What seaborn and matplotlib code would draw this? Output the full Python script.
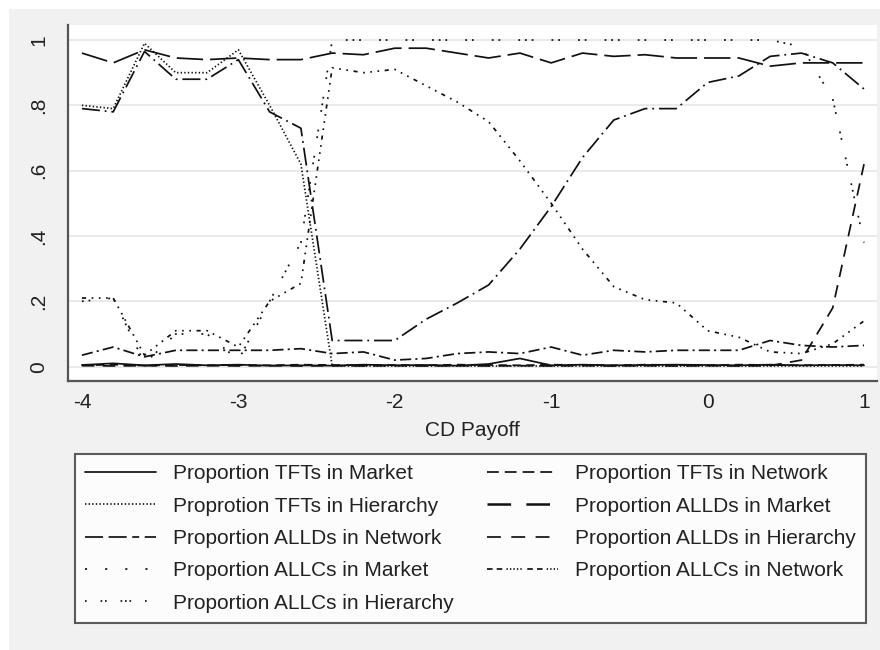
import matplotlib
matplotlib.use("Agg")
import matplotlib.pyplot as plt
from matplotlib.patches import Rectangle
from matplotlib.lines import Line2D
import seaborn as sns
import pandas as pd

# CD payoff grid
cd_payoff = [-4.0, -3.8, -3.6, -3.4, -3.2, -3.0, -2.8, -2.6, -2.4, -2.2, -2.0, -1.8, -1.6,
             -1.4, -1.2, -1.0, -0.8, -0.6, -0.4, -0.2, 0.0, 0.2, 0.4, 0.6, 0.8, 1.0]

tft_market = [0.005, 0.010, 0.004, 0.008, 0.004, 0.006, 0.003, 0.004, 0.003, 0.006, 0.004, 0.005, 0.003,
              0.008, 0.025, 0.004, 0.006, 0.004, 0.005, 0.006, 0.005, 0.004, 0.006, 0.004, 0.005, 0.004]
tft_network = [0.004, 0.006, 0.003, 0.005, 0.004, 0.005, 0.004, 0.006, 0.005, 0.004, 0.005, 0.004, 0.006,
               0.005, 0.004, 0.006, 0.005, 0.004, 0.006, 0.005, 0.004, 0.006, 0.005, 0.004, 0.005, 0.006]
tft_hierarchy = [0.80, 0.79, 0.99, 0.90, 0.90, 0.97, 0.80, 0.62, 0.002, 0.002, 0.002, 0.002, 0.002,
                 0.002, 0.002, 0.002, 0.002, 0.002, 0.002, 0.002, 0.002, 0.002, 0.002, 0.002, 0.002, 0.002]
alld_market = [0.96, 0.93, 0.97, 0.945, 0.94, 0.945, 0.94, 0.94, 0.96, 0.955, 0.975, 0.975, 0.96,
               0.945, 0.96, 0.93, 0.96, 0.95, 0.955, 0.945, 0.945, 0.945, 0.92, 0.93, 0.93, 0.93]
alld_network = [0.79, 0.78, 0.965, 0.88, 0.88, 0.94, 0.78, 0.73, 0.08, 0.08, 0.08, 0.145, 0.195,
                0.25, 0.36, 0.49, 0.64, 0.755, 0.79, 0.79, 0.87, 0.89, 0.95, 0.96, 0.93, 0.85]
alld_hierarchy = [0.003, 0.002, 0.003, 0.002, 0.003, 0.002, 0.003, 0.002, 0.003, 0.002, 0.003, 0.002, 0.003,
                  0.002, 0.003, 0.002, 0.003, 0.002, 0.003, 0.002, 0.003, 0.002, 0.003, 0.02, 0.18, 0.62]
allc_market = [0.035, 0.06, 0.03, 0.05, 0.05, 0.05, 0.05, 0.055, 0.04, 0.045, 0.02, 0.025, 0.04,
               0.045, 0.04, 0.06, 0.035, 0.05, 0.045, 0.05, 0.05, 0.05, 0.08, 0.065, 0.06, 0.065]
allc_network = [0.21, 0.21, 0.035, 0.11, 0.11, 0.06, 0.20, 0.255, 0.915, 0.90, 0.91, 0.86, 0.81,
                0.75, 0.63, 0.50, 0.36, 0.245, 0.205, 0.195, 0.11, 0.09, 0.045, 0.04, 0.07, 0.14]
allc_hierarchy = [0.20, 0.21, 0.01, 0.10, 0.10, 0.02, 0.20, 0.38, 1.0, 1.0, 1.0, 1.0, 1.0,
                  1.0, 1.0, 1.0, 1.0, 1.0, 1.0, 1.0, 1.0, 1.0, 1.0, 0.98, 0.82, 0.38]

labels = ["Proportion TFTs in Market", "Proportion TFTs in Network", "Proprotion TFTs in Hierarchy",
          "Proportion ALLDs in Market", "Proportion ALLDs in Network", "Proportion ALLDs in Hierarchy",
          "Proportion ALLCs in Market", "Proportion ALLCs in Network", "Proportion ALLCs in Hierarchy"]
series = [tft_market, tft_network, tft_hierarchy, alld_market, alld_network, alld_hierarchy,
          allc_market, allc_network, allc_hierarchy]
y_ticks = [0, 0.2, 0.4, 0.6, 0.8, 1.0]
y_ticklabels = ["0", ".2", ".4", ".6", ".8", "1"]
x_ticks = [-4, -3, -2, -1, 0, 1]
x_ticklabels = ["-4", "-3", "-2", "-1", "0", "1"]

# dash patterns (points) used on the plotted curves
line_styles = [
    "-",
    (0, (6, 4)),
    (0, (1, 1.6)),
    (0, (19, 5)),
    (0, (13, 3.5, 1.3, 3.5)),
    (0, (9, 6)),
    (0, (8, 3, 1.5, 3)),
    (0, (3, 4, 1.2, 4, 1.2, 4, 1.2, 4)),
    (0, (1.3, 3.5, 1.3, 13, 1.3, 3.5, 1.3, 13, 1.3, 3.5, 1.3, 3.5, 1.3, 13)),
]
# shorter legend keys render the patterns at key scale
key_styles = [
    ("-", 1.25),
    ((0, (8.5, 4.3)), 1.25),
    ((0, (1, 1.6)), 1.25),
    ((0, (17, 11)), 1.8),
    ((0, (13, 4, 13, 4, 5, 4)), 1.25),
    ((0, (10, 7.5)), 1.25),
    ((0, (1.5, 13)), 1.25),
    ((0, (4, 3, 4, 3, 1, 1.5, 1, 1.5, 1, 1.5, 1, 1.5, 1, 4)), 1.25),
    ((0, (1.2, 10, 1.2, 2, 1.2, 10, 1.2, 2, 1.2, 2, 1.2, 10)), 1.25),
]

df = pd.DataFrame({"cd_payoff": cd_payoff})
for lab, vals in zip(labels, series):
    df[lab] = vals

sns.set_style("white")
plt.rcParams["font.family"] = ["Liberation Sans", "DejaVu Sans"]
plt.rcParams["lines.scale_dashes"] = False

W, H = 880, 650
fig = plt.figure(figsize=(W / 100, H / 100), dpi=100)
fig.patch.set_facecolor("white")
fig.patches.append(Rectangle((9 / W, 0), 1 - 9 / W, 1 - 9 / H, transform=fig.transFigure,
                             facecolor="#f1f1f1", edgecolor="none", zorder=-10))

ax = fig.add_axes([68 / W, 1 - 381 / H, (877 - 68) / W, (381 - 25) / H])
ax.set_facecolor("white")

ink = "#111111"
for lab, ls in zip(labels, line_styles):
    sns.lineplot(data=df, x="cd_payoff", y=lab, ax=ax, color=ink, linestyle=ls,
                 linewidth=1.25, errorbar=None, legend=False)

ax.set_xlim(-4.089, 1.083)
ax.set_ylim(-0.044, 1.046)
ax.set_yticks(y_ticks)
ax.set_yticklabels(y_ticklabels, rotation=90, va="center")
ax.set_xticks(x_ticks)
ax.set_xticklabels(x_ticklabels)
ax.grid(axis="y", color="#e8e8e8", linewidth=1.3)
ax.grid(axis="x", visible=False)
ax.set_axisbelow(True)

for side in ["top", "right"]:
    ax.spines[side].set_visible(False)
for side in ["left", "bottom"]:
    ax.spines[side].set_color("#555555")
    ax.spines[side].set_linewidth(1.6)

fs = 15
ax.tick_params(axis="both", length=5, width=1.2, color="#555555", labelsize=fs, labelcolor="#222222")
ax.tick_params(axis="y", pad=9)
ax.tick_params(axis="x", pad=4)
ax.set_xlabel("CD Payoff", fontsize=fs, color="#222222", labelpad=6)
ax.set_ylabel("")

keys = [Line2D([], [], color=ink, linestyle=ls, linewidth=lw) for ls, lw in key_styles]
order = [0, 2, 4, 6, 8, 1, 3, 5, 7]
leg = fig.legend([keys[i] for i in order], [labels[i] for i in order],
                 loc="lower left", bbox_to_anchor=(75 / W, 1 - 623 / H, (866 - 75) / W, (623 - 451) / H),
                 mode="expand", ncol=2, fontsize=fs, frameon=True, fancybox=False,
                 borderpad=0.5, labelspacing=0.64, handlelength=3.4, handletextpad=0.8,
                 borderaxespad=0)
leg.get_frame().set_edgecolor("#333333")
leg.get_frame().set_linewidth(1.5)
leg.get_frame().set_facecolor("white")
for t in leg.get_texts():
    t.set_color("#222222")

fig.savefig("out.png", dpi=100)
